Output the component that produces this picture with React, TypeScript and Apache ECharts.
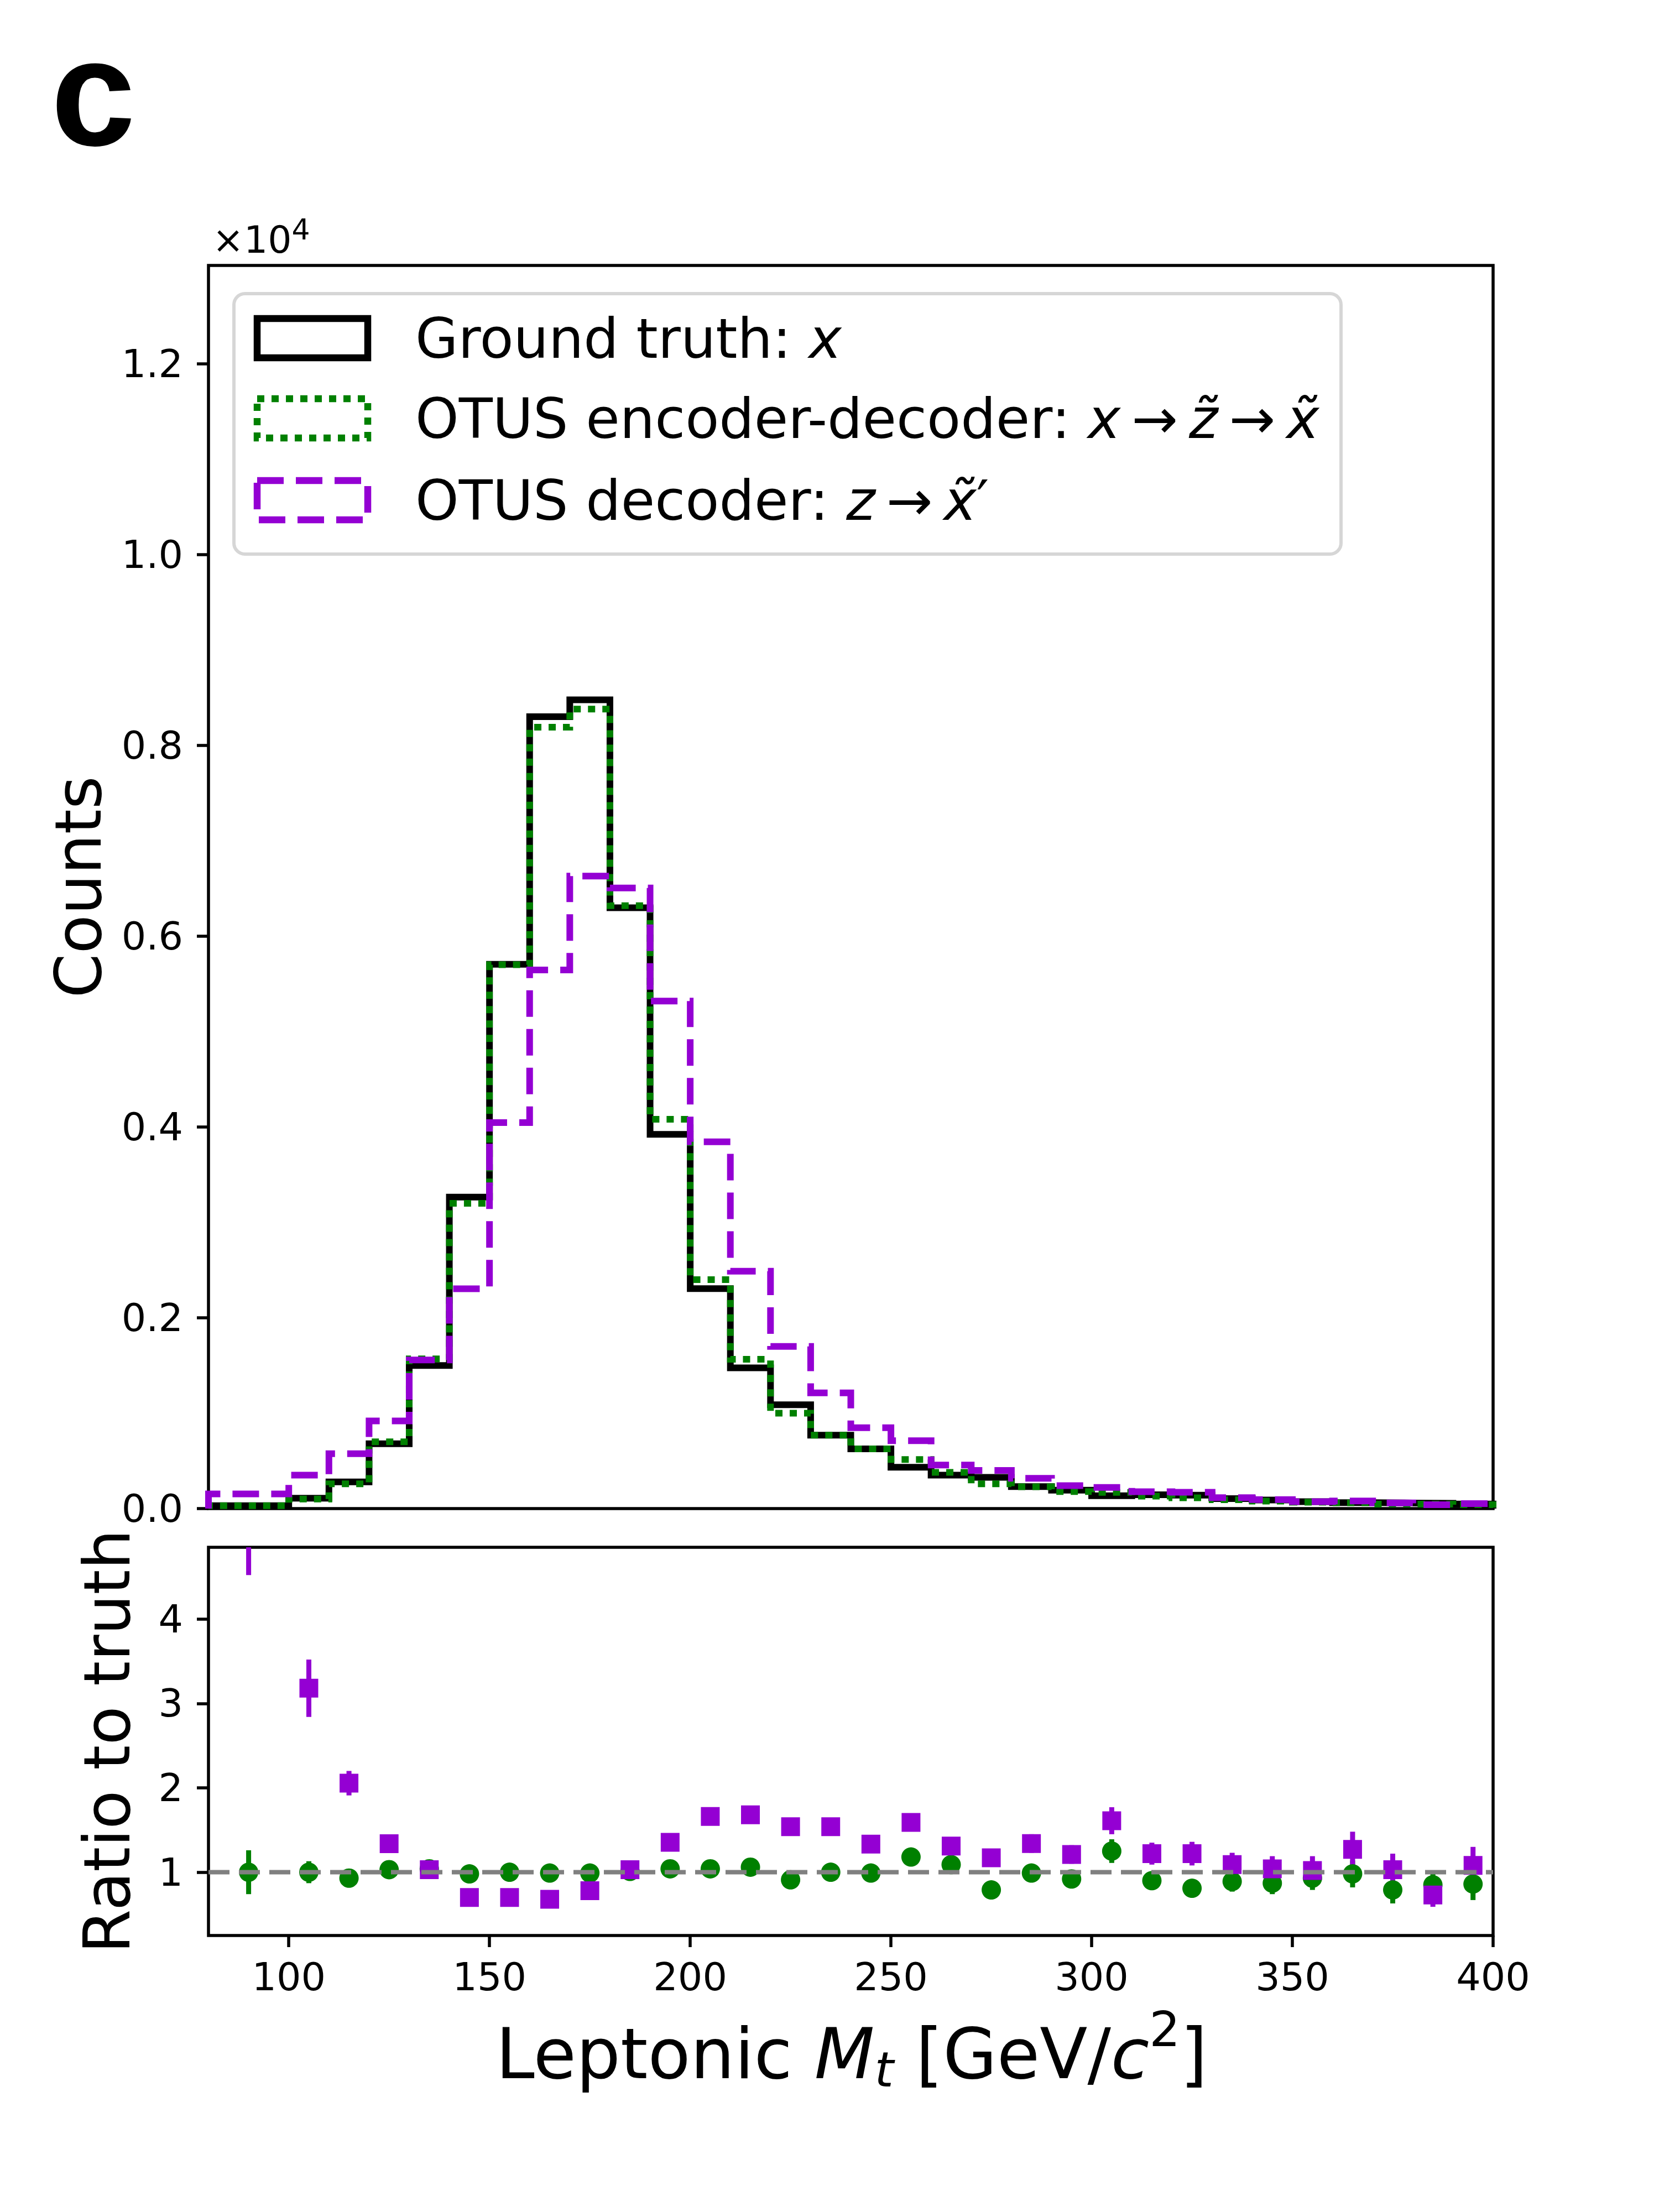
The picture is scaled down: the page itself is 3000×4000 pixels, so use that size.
import React, { useEffect, useRef } from "react";
import * as echarts from "echarts";

// ---------- data ----------
const binEdges = [80, 100, 110, 120, 130, 140, 150, 160, 170, 180, 190, 200, 210, 220, 230, 240, 250, 260, 270, 280, 290, 300, 310, 320, 330, 340, 350, 360, 370, 380, 390, 400];
const truthCounts = [30, 108, 280, 680, 1500, 3265, 5705, 8300, 8477, 6297, 3922, 2305, 1475, 1088, 770, 626, 433, 351, 327, 231, 193, 135, 145, 140, 105, 90, 72, 62, 58, 55, 48];
const encDecCounts = [30, 100, 260, 700, 1570, 3200, 5700, 8190, 8380, 6320, 4080, 2400, 1565, 1000, 770, 626, 515, 380, 260, 229, 178, 169, 131, 113, 93, 78, 67, 61, 46, 47, 41];
const decoderCounts = [154, 350, 575, 918, 1558, 2304, 4046, 5645, 6630, 6505, 5320, 3845, 2488, 1700, 1213, 847, 712, 457, 400, 318, 240, 222, 177, 171, 114, 94, 73, 79, 60, 40, 52];

const ratioX = [90, 105, 115, 125, 135, 145, 155, 165, 175, 185, 195, 205, 215, 225, 235, 245, 255, 265, 275, 285, 295, 305, 315, 325, 335, 345, 355, 365, 375, 385, 395];
const ratioEncDec = [1.0, 1.0, 0.93, 1.03, 1.04, 0.98, 1.0, 0.99, 0.99, 1.01, 1.04, 1.04, 1.06, 0.91, 1.0, 0.99, 1.18, 1.09, 0.79, 0.99, 0.92, 1.25, 0.9, 0.81, 0.89, 0.87, 0.93, 0.98, 0.79, 0.85, 0.86];
const ratioEncDecErr = [0.26, 0.13, 0.05, 0.04, 0.03, 0.02, 0.02, 0.02, 0.02, 0.02, 0.02, 0.03, 0.04, 0.04, 0.05, 0.05, 0.06, 0.07, 0.07, 0.08, 0.09, 0.14, 0.1, 0.1, 0.12, 0.13, 0.14, 0.16, 0.16, 0.16, 0.19];
const ratioDecoder = [5.2, 3.18, 2.055, 1.337, 1.03, 0.7, 0.7, 0.68, 0.78, 1.03, 1.354, 1.66, 1.68, 1.54, 1.54, 1.333, 1.59, 1.31, 1.17, 1.34, 1.21, 1.61, 1.22, 1.22, 1.09, 1.04, 1.02, 1.27, 1.03, 0.73, 1.08];
const ratioDecoderErr = [0.68, 0.34, 0.145, 0.06, 0.04, 0.02, 0.02, 0.02, 0.02, 0.02, 0.03, 0.04, 0.05, 0.05, 0.06, 0.07, 0.08, 0.09, 0.08, 0.11, 0.11, 0.16, 0.13, 0.14, 0.14, 0.15, 0.17, 0.21, 0.19, 0.14, 0.22];

const countTicks = [0, 2000, 4000, 6000, 8000, 10000, 12000];
const ratioTicks = [1, 2, 3, 4];
const massTicks = [100, 150, 200, 250, 300, 350, 400];
const referenceLine = [[80, 1], [400, 1]];

// ---------- style ----------
const FONT = "DejaVu Sans";
const BLACK = "#000000";
const GREEN = "#008000";
const VIOLET = "#9400D3";
const GRAY = "#808080";

const stepData = (vals: number[]) => {
  const pts: number[][] = [[binEdges[0], 0]];
  vals.forEach((v, i) => pts.push([binEdges[i], v]));
  pts.push([binEdges[binEdges.length - 1], vals[vals.length - 1]]);
  pts.push([binEdges[binEdges.length - 1], 0]);
  return pts;
};

const errorBarSeries = (vals: number[], errs: number[], color: string) => ({
  type: "custom",
  xAxisIndex: 1,
  yAxisIndex: 1,
  clip: true,
  encode: { x: 0, y: 1 },
  data: ratioX.map((x, i) => [x, vals[i], errs[i]]),
  renderItem: (params: any, api: any) => {
    const x = api.value(0);
    const y = api.value(1);
    const e = api.value(2);
    const p1 = api.coord([x, y - e]);
    const p2 = api.coord([x, y + e]);
    return {
      type: "line",
      shape: { x1: p1[0], y1: p1[1], x2: p2[0], y2: p2[1] },
      style: { stroke: color, lineWidth: 9 },
    };
  },
});

const textStyleBase = (size: number) => ({ fontFamily: FONT, fontSize: size, fill: BLACK });

const legendRich = {
  n: { fontFamily: FONT, fontSize: 100, fill: BLACK, color: BLACK },
  i: { fontFamily: FONT, fontSize: 100, fontStyle: "italic", fill: BLACK, color: BLACK },
};

const legendRows = [
  { y: 612, text: "{n|Ground truth: }{i|x}", color: BLACK, dash: "solid" as any },
  { y: 757, text: "{n|OTUS encoder-decoder: }{i|x}{n|\u2009\u2192\u2009}{i|z\u0303}{n|\u2009\u2192\u2009}{i|x\u0303}", color: GREEN, dash: [13, 13] },
  { y: 905, text: "{n|OTUS decoder: }{i|z}{n|\u2009\u2192\u2009}{i|x\u0303}{n|\u2032}", color: VIOLET, dash: [48, 22] },
];

const graphics: any[] = [
  {
    type: "text",
    x: 92,
    y: 167,
    z: 100,
    style: {
      text: "c",
      fontFamily: "Liberation Sans",
      fontWeight: "bold",
      fontSize: 275,
      fill: BLACK,
      align: "left",
      verticalAlign: "middle",
      textAlign: "left",
      textVerticalAlign: "middle",
    },
  },
  {
    type: "text",
    x: 384,
    y: 433,
    z: 100,
    style: {
      text: "{a|\u00d710}{b|4}",
      rich: {
        a: { fontFamily: FONT, fontSize: 68, fill: BLACK, color: BLACK },
        b: { fontFamily: FONT, fontSize: 52, fill: BLACK, color: BLACK, padding: [0, 0, 36, 0] },
      },
      align: "left",
      verticalAlign: "middle",
      textAlign: "left",
      textVerticalAlign: "middle",
    },
  },
  {
    type: "text",
    x: 142,
    y: 1604,
    rotation: Math.PI / 2,
    z: 100,
    style: {
      ...textStyleBase(115),
      text: "Counts",
      align: "center",
      verticalAlign: "middle",
      textAlign: "center",
      textVerticalAlign: "middle",
    },
  },
  {
    type: "text",
    x: 194,
    y: 3149,
    rotation: Math.PI / 2,
    z: 100,
    style: {
      ...textStyleBase(115),
      text: "Ratio to truth",
      align: "center",
      verticalAlign: "middle",
      textAlign: "center",
      textVerticalAlign: "middle",
    },
  },
  {
    type: "text",
    x: 1540,
    y: 3714,
    z: 100,
    style: {
      text: "{n|Leptonic }{i|M}{s|t}{n| [GeV/}{i|c}{p|2}{n|]}",
      rich: {
        n: { fontFamily: FONT, fontSize: 126, fill: BLACK, color: BLACK },
        i: { fontFamily: FONT, fontSize: 126, fontStyle: "italic", fill: BLACK, color: BLACK },
        s: { fontFamily: FONT, fontSize: 88, fontStyle: "italic", fill: BLACK, color: BLACK, padding: [56, 0, 0, 0] },
        p: { fontFamily: FONT, fontSize: 88, fill: BLACK, color: BLACK, padding: [0, 0, 90, 0] },
      },
      align: "center",
      verticalAlign: "middle",
      textAlign: "center",
      textVerticalAlign: "middle",
    },
  },
  {
    type: "rect",
    z: 90,
    shape: { x: 423, y: 531, width: 2002, height: 471, r: 20 },
    style: { fill: "rgba(255,255,255,0.8)", stroke: "#d6d6d6", lineWidth: 6 },
  },
];

legendRows.forEach((row) => {
  graphics.push({
    type: "rect",
    z: 95,
    shape: { x: 465, y: row.y - 36, width: 200, height: 71 },
    style: {
      fill: "none",
      stroke: row.color,
      lineWidth: 12.5,
      lineDash: row.dash === "solid" ? null : row.dash,
      lineCap: "butt",
      lineJoin: "miter",
    },
  });
  graphics.push({
    type: "text",
    x: 751,
    y: row.y,
    z: 96,
    style: {
      text: row.text,
      rich: legendRich,
      align: "left",
      verticalAlign: "middle",
      textAlign: "left",
      textVerticalAlign: "middle",
    },
  });
});

const axisLabelStyle = { color: BLACK, fontFamily: FONT, fontSize: 70 };
const tickStyle = { show: true, inside: false, length: 21, lineStyle: { color: BLACK, width: 5.5 } };

const option: any = {
  animation: false,
  backgroundColor: "#ffffff",
  grid: [
    { left: 377, top: 480, width: 2323, height: 2248, show: true, borderColor: BLACK, borderWidth: 5.5, backgroundColor: "transparent" },
    { left: 377, top: 2798, width: 2323, height: 702, show: true, borderColor: BLACK, borderWidth: 5.5, backgroundColor: "transparent" },
  ],
  xAxis: [
    {
      type: "value",
      gridIndex: 0,
      min: 80,
      max: 400,
      axisLine: { show: false, onZero: false },
      axisTick: { show: false },
      axisLabel: { show: false },
      splitLine: { show: false },
    },
    {
      type: "value",
      gridIndex: 1,
      min: 80,
      max: 400,
      axisLine: { show: false, onZero: false },
      axisTick: { ...tickStyle, customValues: massTicks },
      axisLabel: { ...axisLabelStyle, margin: 40, customValues: massTicks },
      splitLine: { show: false },
    },
  ],
  yAxis: [
    {
      type: "value",
      gridIndex: 0,
      min: 0,
      max: 13030,
      axisLine: { show: false, onZero: false },
      axisTick: { ...tickStyle, customValues: countTicks },
      axisLabel: { ...axisLabelStyle, margin: 46, customValues: countTicks, formatter: (v: number) => (v / 10000).toFixed(1) },
      splitLine: { show: false },
    },
    {
      type: "value",
      gridIndex: 1,
      min: 0.25,
      max: 4.85,
      axisLine: { show: false, onZero: false },
      axisTick: { ...tickStyle, customValues: ratioTicks },
      axisLabel: { ...axisLabelStyle, margin: 46, customValues: ratioTicks, formatter: (v: number) => String(v) },
      splitLine: { show: false },
    },
  ],
  series: [
    {
      name: "Ground truth",
      type: "line",
      xAxisIndex: 0,
      yAxisIndex: 0,
      step: "end",
      symbol: "none",
      data: stepData(truthCounts),
      lineStyle: { color: BLACK, width: 12, type: "solid", cap: "butt", join: "miter" },
    },
    {
      name: "OTUS encoder-decoder",
      type: "line",
      xAxisIndex: 0,
      yAxisIndex: 0,
      step: "end",
      symbol: "none",
      data: stepData(encDecCounts),
      lineStyle: { color: GREEN, width: 12, type: [13, 13], cap: "butt", join: "miter" },
    },
    {
      name: "OTUS decoder",
      type: "line",
      xAxisIndex: 0,
      yAxisIndex: 0,
      step: "end",
      symbol: "none",
      data: stepData(decoderCounts),
      lineStyle: { color: VIOLET, width: 12, type: [48, 22], cap: "butt", join: "miter" },
    },
    {
      name: "reference",
      type: "line",
      xAxisIndex: 1,
      yAxisIndex: 1,
      symbol: "none",
      data: referenceLine,
      lineStyle: { color: GRAY, width: 8, type: [38, 17], cap: "butt" },
    },
    errorBarSeries(ratioEncDec, ratioEncDecErr, GREEN),
    {
      name: "encdec ratio",
      type: "scatter",
      xAxisIndex: 1,
      yAxisIndex: 1,
      symbol: "circle",
      symbolSize: 35,
      itemStyle: { color: GREEN, opacity: 1 },
      data: ratioX.map((x, i) => [x, ratioEncDec[i]]),
    },
    errorBarSeries(ratioDecoder, ratioDecoderErr, VIOLET),
    {
      name: "decoder ratio",
      type: "scatter",
      xAxisIndex: 1,
      yAxisIndex: 1,
      symbol: "rect",
      symbolSize: 34,
      itemStyle: { color: VIOLET, opacity: 1 },
      data: ratioX.map((x, i) => [x, ratioDecoder[i]]),
    },
  ],
  graphic: graphics,
};

export default function App() {
  const ref = useRef<HTMLDivElement>(null);
  useEffect(() => {
    const chart = echarts.init(ref.current as HTMLDivElement, null, { renderer: "svg" });
    chart.setOption(option);
    return () => chart.dispose();
  }, []);
  return (
    <div
      ref={ref}
      style={{ position: "absolute", left: 0, top: 0, width: 3000, height: 4000, background: "#ffffff" }}
    />
  );
}
